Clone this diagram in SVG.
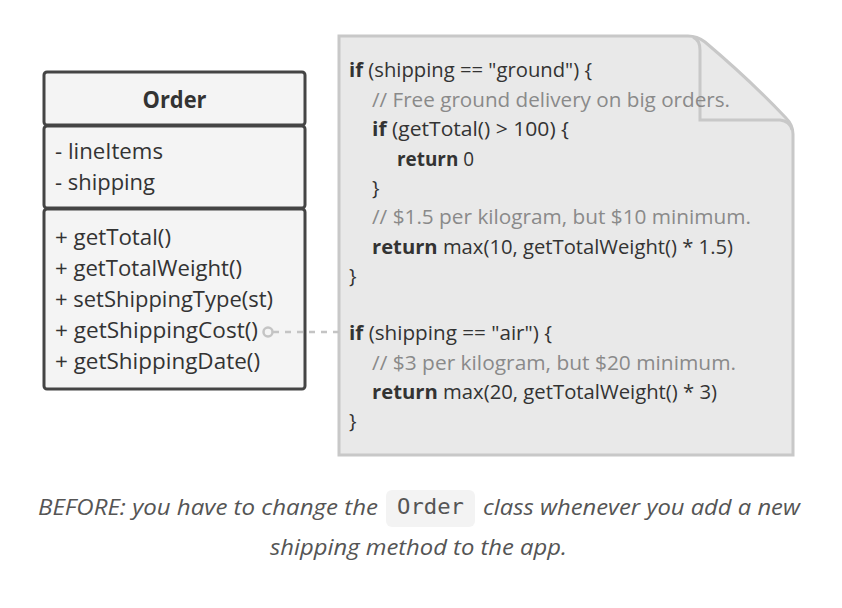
<svg xmlns="http://www.w3.org/2000/svg" width="842" height="608" viewBox="0 0 842 608">
<style>
  .t{font-family:"Open Sans",Lato,"Liberation Sans",sans-serif;fill:#333}
  .uml{font-size:21px}
  .code{font-size:20px}
  .kw{font-weight:bold}
  .cm{fill:#8a8a8a}
  .box{fill:#f4f4f4;stroke:#444;stroke-width:3}
  .cap{font-family:"Open Sans",Lato,"Liberation Sans",sans-serif;font-style:italic;font-size:22px;fill:#555}
</style>
<rect width="842" height="608" fill="#ffffff"/>
<g id="order">
  <rect class="box" x="44" y="72" width="261" height="53" rx="3"/>
  <rect class="box" x="44" y="126" width="261" height="82" rx="3"/>
  <rect class="box" x="44" y="209" width="261" height="180" rx="3"/>
  <text class="t" x="174.5" y="108" font-size="23" font-weight="bold" text-anchor="middle" textLength="64" lengthAdjust="spacingAndGlyphs">Order</text>
  <text class="t uml" x="55" y="159" textLength="108" lengthAdjust="spacingAndGlyphs">- lineItems</text>
  <text class="t uml" x="55" y="190" textLength="100" lengthAdjust="spacingAndGlyphs">- shipping</text>
  <text class="t uml" x="55" y="245" textLength="116" lengthAdjust="spacingAndGlyphs">+ getTotal()</text>
  <text class="t uml" x="55" y="276" textLength="187" lengthAdjust="spacingAndGlyphs">+ getTotalWeight()</text>
  <text class="t uml" x="55" y="307" textLength="218" lengthAdjust="spacingAndGlyphs">+ setShippingType(st)</text>
  <text class="t uml" x="55" y="338" textLength="203" lengthAdjust="spacingAndGlyphs">+ getShippingCost()</text>
  <text class="t uml" x="55" y="369" textLength="205" lengthAdjust="spacingAndGlyphs">+ getShippingDate()</text>
</g>
<g id="code">
  <path d="M339,455 L339,36 L688,36 Q697,36 705,42 Q750,80 786,118 Q793,125 793,134 L793,455 Z" fill="#e9e9e9" stroke="#c8c8c8" stroke-width="3"/>
  <path d="M693,37 Q700,40 700,50 L700,120 L780,120 Q790,121 792,130" fill="none" stroke="#c8c8c8" stroke-width="3"/>
  <text class="t code" x="349" y="77" textLength="243" lengthAdjust="spacingAndGlyphs"><tspan class="kw">if</tspan> (shipping == "ground") {</text>
  <text class="t code cm" x="372" y="106.5" textLength="358" lengthAdjust="spacingAndGlyphs">// Free ground delivery on big orders.</text>
  <text class="t code" x="372" y="136" textLength="197" lengthAdjust="spacingAndGlyphs"><tspan class="kw">if</tspan> (getTotal() &gt; 100) {</text>
  <text class="t code" x="397" y="165.5" textLength="77" lengthAdjust="spacingAndGlyphs"><tspan class="kw">return</tspan> 0</text>
  <text class="t code" x="372" y="195">}</text>
  <text class="t code cm" x="372" y="224" textLength="379" lengthAdjust="spacingAndGlyphs">// $1.5 per kilogram, but $10 minimum.</text>
  <text class="t code" x="372" y="253.5" textLength="361" lengthAdjust="spacingAndGlyphs"><tspan class="kw">return</tspan> max(10, getTotalWeight() * 1.5)</text>
  <text class="t code" x="349" y="283">}</text>
  <text class="t code" x="349" y="340" textLength="203" lengthAdjust="spacingAndGlyphs"><tspan class="kw">if</tspan> (shipping == "air") {</text>
  <text class="t code cm" x="372" y="369.5" textLength="364" lengthAdjust="spacingAndGlyphs">// $3 per kilogram, but $20 minimum.</text>
  <text class="t code" x="372" y="399" textLength="345" lengthAdjust="spacingAndGlyphs"><tspan class="kw">return</tspan> max(20, getTotalWeight() * 3)</text>
  <text class="t code" x="349" y="428">}</text>
</g>
<g id="connectors">
  <line x1="273" y1="332" x2="339" y2="332" stroke="#c4c4c4" stroke-width="2.5" stroke-dasharray="6 6"/>
  <circle cx="268" cy="332" r="4.5" fill="#f4f4f4" stroke="#c4c4c4" stroke-width="2.5"/>
</g>
<g id="caption">
  <rect x="386" y="490" width="89" height="37" rx="6" fill="#f3f3f3"/>
  <text class="cap" x="38" y="515" textLength="340" lengthAdjust="spacingAndGlyphs">BEFORE: you have to change the</text>
  <text x="397" y="514" font-family="'DejaVu Sans Mono','Liberation Mono',monospace" font-size="21" fill="#555" textLength="67" lengthAdjust="spacingAndGlyphs">Order</text>
  <text class="cap" x="483" y="515" textLength="317" lengthAdjust="spacingAndGlyphs">class whenever you add a new</text>
  <text class="cap" x="270" y="555" textLength="297" lengthAdjust="spacingAndGlyphs">shipping method to the app.</text>
</g>
</svg>
